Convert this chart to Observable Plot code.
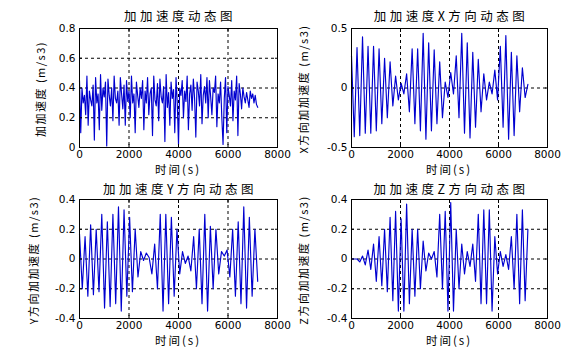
<!DOCTYPE html>
<html><head><meta charset="utf-8">
<script src="https://cdn.jsdelivr.net/npm/d3@7"></script>
<script src="https://cdn.jsdelivr.net/npm/@observablehq/plot@0.6"></script>
<style>
body{margin:0;background:#fff;}
#c{position:relative;width:574px;height:356px;overflow:hidden;background:#fff;font-family:"Noto Sans CJK SC",sans-serif;color:#000;}
#c svg{position:absolute;left:0;top:0;}
.t{position:absolute;white-space:nowrap;transform:translate(-50%,-50%);font-size:12.5px;letter-spacing:3.5px;line-height:1;}
.xl{position:absolute;white-space:nowrap;transform:translate(-50%,-50%);font-size:11.5px;letter-spacing:2px;line-height:1;}
.yl{position:absolute;white-space:nowrap;transform:translate(-50%,-50%) rotate(-90deg);font-size:11px;letter-spacing:1.5px;line-height:1;}
</style></head><body><div id="c"></div>
<script>
// ---- data ----
const titles = ["加加速度动态图", "加加速度X方向动态图", "加加速度Y方向动态图", "加加速度Z方向动态图"];
const yLabels = ["加加速度 (m/s3)", "X方向加加速度 (m/s3)", "Y方向加加速度 (m/s3)", "Z方向加加速度 (m/s3)"];
const xLabel = "时间(s)";
const xTicks = [0, 2000, 4000, 6000, 8000];
const yTicksTotal = [0, 0.2, 0.4, 0.6, 0.8];
const yTicksX = [-0.5, 0, 0.5];
const yTicksYZ = [-0.4, -0.2, 0, 0.2, 0.4];
const dtTotal = 50;     // s between samples, total
const dtAxis = 112.5;   // s between samples, X/Y/Z
const total = [0.45,0.10,0.40,0.30,0.35,0.22,0.48,0.15,0.38,0.32,
0.28,0.42,0.05,0.47,0.30,0.36,0.12,0.49,0.25,0.40,
0.34,0.44,0.01,0.46,0.35,0.28,0.40,0.18,0.48,0.33,
0.30,0.38,0.15,0.47,0.36,0.26,0.42,0.15,0.45,0.31,
0.38,0.20,0.48,0.30,0.36,0.10,0.44,0.35,0.27,0.40,
0.33,0.45,0.12,0.38,0.30,0.47,0.22,0.36,0.40,0.08,
0.48,0.32,0.28,0.43,0.18,0.46,0.34,0.30,0.41,0.04,
0.49,0.27,0.37,0.15,0.44,0.33,0.39,0.10,0.47,0.30,
0.02,0.40,0.35,0.45,0.20,0.38,0.31,0.48,0.12,0.36,
0.42,0.25,0.46,0.33,0.07,0.44,0.38,0.28,0.49,0.16,
0.35,0.41,0.30,0.47,0.20,0.45,0.34,0.22,0.40,0.37,
0.48,0.14,0.36,0.30,0.44,0.20,0.02,0.33,0.47,0.10,
0.41,0.35,0.28,0.45,0.18,0.38,0.32,0.48,0.08,0.43,
0.36,0.26,0.40,0.34,0.30,0.37,0.32,0.27,0.38,0.33,
0.36,0.30,0.35,0.29,0.27];
const jerkX = [0.27,-0.41,0.34,-0.40,0.43,-0.38,0.35,-0.38,0.35,-0.36,
0.33,-0.30,0.25,-0.25,0.22,-0.15,0.10,-0.10,0.04,-0.05,
0.12,-0.20,0.33,-0.30,0.33,-0.36,0.46,-0.43,0.38,-0.36,
0.32,-0.30,0.22,-0.25,0.05,-0.08,0.13,-0.05,0.27,-0.25,
0.46,-0.38,0.38,-0.42,0.30,-0.33,0.24,-0.20,0.12,-0.10,
0.05,-0.05,0.15,-0.10,0.35,-0.33,0.44,-0.43,0.30,-0.40,
0.27,-0.20,0.17,-0.08,0.03];
const jerkY = [0.17,-0.20,0.15,-0.25,0.23,-0.24,0.20,-0.22,0.30,-0.33,
0.25,-0.32,0.30,-0.30,0.35,-0.35,0.33,-0.25,0.28,-0.22,
0.20,-0.12,0.05,-0.01,0.04,0.01,-0.10,0.10,-0.20,0.30,
-0.35,0.30,-0.30,0.28,-0.25,0.20,-0.10,0.05,-0.03,0.02,
-0.08,0.15,-0.20,0.20,-0.30,0.30,-0.35,0.22,-0.20,0.20,
-0.10,0.05,0.02,0.06,-0.12,0.20,-0.25,0.25,-0.30,0.35,
-0.33,0.28,-0.25,0.20,-0.15];
const jerkZ = [0,0,0,-0.02,0.02,-0.04,0.06,-0.07,0.10,-0.15,
0.15,-0.18,0.20,-0.22,0.28,-0.28,0.32,-0.35,0.27,-0.35,
0.37,-0.30,0.20,-0.25,0.20,-0.20,0.12,-0.08,0.04,0.00,
0.05,-0.12,0.30,-0.20,0.32,-0.35,0.38,-0.35,0.20,-0.20,
0.10,-0.10,0.05,-0.05,0.10,-0.15,0.30,-0.30,0.33,-0.30,
0.33,-0.35,0.15,-0.10,0.05,-0.05,0.03,-0.07,0.15,-0.20,
0.30,-0.30,0.33,-0.28,0.20];

// ---- layout ----
const W = 574, H = 356;
const panels = [
  {vals: total, dt: dtTotal, dom: [0, 0.8], ticks: yTicksTotal, x0: 79, x1: 277, y0: 28, y1: 147, ylx: 40, xly: 170, ty: 16},
  {vals: jerkX, dt: dtAxis, dom: [-0.5, 0.5], ticks: yTicksX, x0: 351, x1: 547, y0: 28, y1: 147, ylx: 303, xly: 170, ty: 16},
  {vals: jerkY, dt: dtAxis, dom: [-0.4, 0.4], ticks: yTicksYZ, x0: 79, x1: 277, y0: 199, y1: 318, ylx: 33, xly: 341, ty: 188.5},
  {vals: jerkZ, dt: dtAxis, dom: [-0.4, 0.4], ticks: yTicksYZ, x0: 351, x1: 547, y0: 199, y1: 318, ylx: 303, xly: 341, ty: 188.5}
];
const c = document.getElementById("c");
const fmt = d => String(d);
panels.forEach((p, k) => {
  const data = p.vals.map((v, i) => ({t: i * p.dt, v}));
  const inner = p.ticks.slice(1, -1);
  const svg = Plot.plot({
    width: W, height: H,
    marginLeft: p.x0, marginRight: W - p.x1, marginTop: p.y0, marginBottom: H - p.y1,
    style: {background: "transparent", overflow: "visible", fontFamily: "'DejaVu Sans', sans-serif", fontSize: "10.5px", color: "#000"},
    x: {domain: [0, 8000]},
    y: {domain: p.dom},
    marks: [
      Plot.gridX(xTicks.slice(1, -1), {stroke: "#000", strokeOpacity: 1, strokeDasharray: "3,3"}),
      Plot.gridY(inner, {stroke: "#000", strokeOpacity: 1, strokeDasharray: "3,3"}),
      Plot.line(data, {x: "t", y: "v", stroke: "#0000d0", strokeWidth: 1.15}),
      Plot.axisX(xTicks, {anchor: "bottom", tickSize: 0, tickPadding: 3, tickFormat: fmt, label: null}),
      Plot.axisY(p.ticks, {anchor: "left", tickSize: 0, tickPadding: 4, tickFormat: fmt, label: null}),
      Plot.axisX(xTicks, {anchor: "bottom", tickSize: -3, tickFormat: () => "", label: null}),
      Plot.axisX(xTicks, {anchor: "top", tickSize: -3, tickFormat: () => "", label: null}),
      Plot.axisY(p.ticks, {anchor: "left", tickSize: -3, tickFormat: () => "", label: null}),
      Plot.axisY(p.ticks, {anchor: "right", tickSize: -3, tickFormat: () => "", label: null}),
      Plot.frame({stroke: "#000"})
    ]
  });
  c.appendChild(svg);
  const cx = (p.x0 + p.x1) / 2, cy = (p.y0 + p.y1) / 2;
  const t = document.createElement("div");
  t.className = "t"; t.textContent = titles[k];
  t.style.left = (cx + 2) + "px"; t.style.top = p.ty + "px";
  c.appendChild(t);
  const xl = document.createElement("div");
  xl.className = "xl"; xl.textContent = xLabel;
  xl.style.left = cx + "px"; xl.style.top = p.xly + "px";
  c.appendChild(xl);
  const yl = document.createElement("div");
  yl.className = "yl"; yl.textContent = yLabels[k];
  yl.style.left = p.ylx + "px"; yl.style.top = (cy + 1) + "px";
  c.appendChild(yl);
});
</script></body></html>
